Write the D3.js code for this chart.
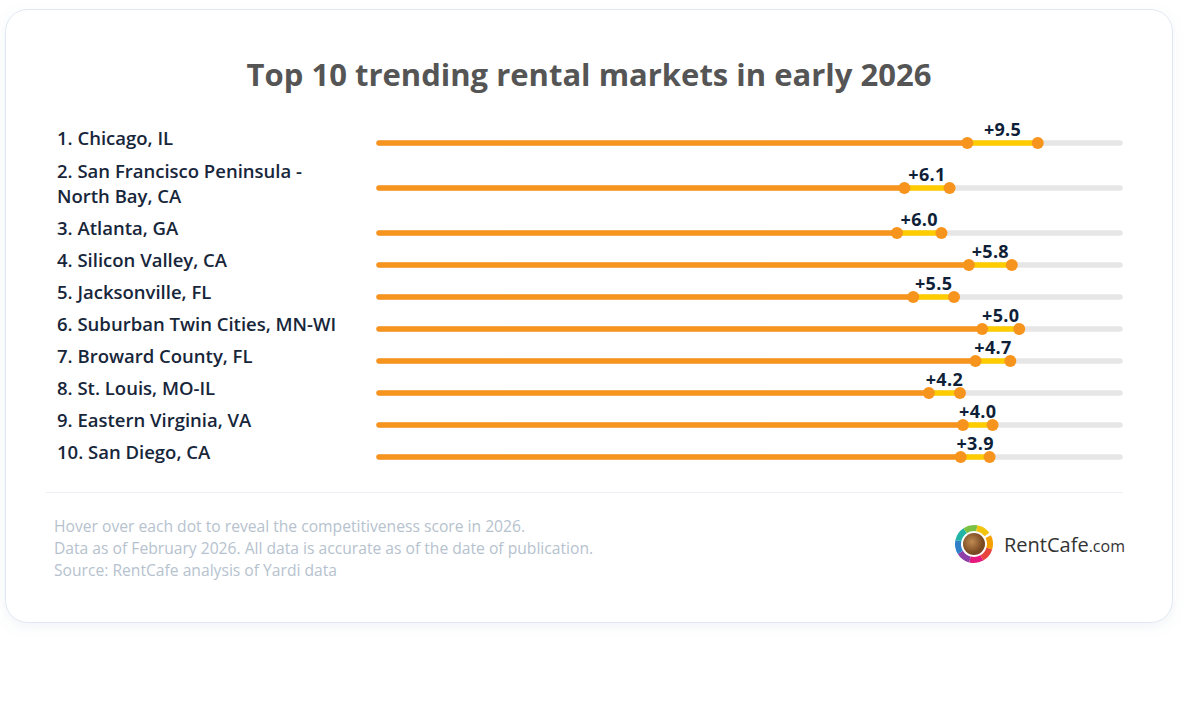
<!DOCTYPE html>
<html>
<head>
<meta charset="utf-8">
<script src="https://cdn.jsdelivr.net/npm/d3@7"></script>
<style>
  html, body { margin: 0; padding: 0; background: #ffffff; }
  svg { display: block; font-family: "Open Sans", "Noto Sans", sans-serif; }
</style>
</head>
<body>
<div id="chart"></div>
<script>
// Data
const markets = [
  "Chicago, IL",
  "San Francisco Peninsula - North Bay, CA",
  "Atlanta, GA",
  "Silicon Valley, CA",
  "Jacksonville, FL",
  "Suburban Twin Cities, MN-WI",
  "Broward County, FL",
  "St. Louis, MO-IL",
  "Eastern Virginia, VA",
  "San Diego, CA"
];
const scoreEarly2025 = [79.4, 70.9, 69.9, 79.6, 72.1, 81.4, 80.5, 74.2, 78.8, 78.5];
const scoreEarly2026 = [88.9, 77.0, 75.9, 85.4, 77.6, 86.4, 85.2, 78.4, 82.8, 82.4];
const changeLabels = ["+9.5", "+6.1", "+6.0", "+5.8", "+5.5", "+5.0", "+4.7", "+4.2", "+4.0", "+3.9"];

const footnotes = [
  "Hover over each dot to reveal the competitiveness score in 2026.",
  "Data as of February 2026. All data is accurate as of the date of publication.",
  "Source: RentCafe analysis of Yardi data"
];

const width = 1189, height = 702;
const orange = "#f7941d", yellow = "#ffcc00", track = "#e6e6e6";

const svg = d3.select("#chart").append("svg")
  .attr("width", width)
  .attr("height", height);

// card with soft shadow
const defs = svg.append("defs");
const shadow = defs.append("filter").attr("id", "shadow")
  .attr("x", "-5%").attr("y", "-5%").attr("width", "110%").attr("height", "115%");
shadow.append("feDropShadow")
  .attr("dx", 0).attr("dy", 4).attr("stdDeviation", 6)
  .attr("flood-color", "#8fa3bf").attr("flood-opacity", 0.12);

svg.append("rect")
  .attr("x", 5.5).attr("y", 9.5)
  .attr("width", 1167).attr("height", 613)
  .attr("rx", 22)
  .attr("fill", "#ffffff")
  .attr("stroke", "#dfe8f2")
  .attr("filter", "url(#shadow)");

svg.append("text")
  .attr("x", 589).attr("y", 86)
  .attr("text-anchor", "middle")
  .attr("font-size", 31)
  .attr("font-weight", 700)
  .attr("fill", "#555555")
  .text("Top 10 trending rental markets in early 2026");

// wrap labels to the left column
const labelX = 57, labelMax = 292, labelSize = 18.5;
const measure = svg.append("text").attr("font-size", labelSize).attr("font-weight", 600);
const labelLines = markets.map((m, i) => {
  const words = (`${i + 1}. ${m}`).split(" ");
  const lines = [];
  let cur = "";
  words.forEach(w => {
    const test = cur ? cur + " " + w : w;
    measure.text(test);
    if (measure.node().getComputedTextLength() > labelMax && cur) {
      lines.push(cur);
      cur = w;
    } else {
      cur = test;
    }
  });
  lines.push(cur);
  return lines;
});
measure.remove();

// row heights: 32 for single line, 58 for two lines
const rowTop = 124;
const centers = [];
let acc = rowTop;
labelLines.forEach(l => {
  const h = l.length > 1 ? 58 : 32;
  centers.push(acc + h / 2);
  acc += h;
});

const y = d3.scaleOrdinal().domain(markets).range(centers);
const x = d3.scaleLinear().domain([0, 100]).range([379, 1120]);

const rows = svg.append("g").selectAll("g")
  .data(markets)
  .join("g");

// labels
rows.append("text")
  .attr("font-size", labelSize)
  .attr("font-weight", 600)
  .attr("fill", "#17263a")
  .each(function (d, i) {
    const lines = labelLines[i];
    const t = d3.select(this);
    const lh = 25;
    const first = y(d) - 3 - (lines.length - 1) * lh / 2 + 8;
    lines.forEach((ln, k) => {
      t.append("tspan").attr("x", labelX).attr("y", first + k * lh).text(ln);
    });
  });

const lineY = d => y(d) + 3;

rows.append("line")
  .attr("x1", x(0)).attr("x2", x(100))
  .attr("y1", lineY).attr("y2", lineY)
  .attr("stroke", track).attr("stroke-width", 5.5).attr("stroke-linecap", "round");

rows.append("line")
  .attr("x1", x(0)).attr("x2", (d, i) => x(scoreEarly2025[i]))
  .attr("y1", lineY).attr("y2", lineY)
  .attr("stroke", orange).attr("stroke-width", 5.5).attr("stroke-linecap", "round");

rows.append("line")
  .attr("x1", (d, i) => x(scoreEarly2025[i])).attr("x2", (d, i) => x(scoreEarly2026[i]))
  .attr("y1", lineY).attr("y2", lineY)
  .attr("stroke", yellow).attr("stroke-width", 5.5);

rows.append("circle")
  .attr("cx", (d, i) => x(scoreEarly2025[i])).attr("cy", lineY)
  .attr("r", 6).attr("fill", orange);

rows.append("circle")
  .attr("cx", (d, i) => x(scoreEarly2026[i])).attr("cy", lineY)
  .attr("r", 6).attr("fill", orange);

rows.append("text")
  .attr("x", (d, i) => (x(scoreEarly2025[i]) + x(scoreEarly2026[i])) / 2)
  .attr("y", d => lineY(d) - 7)
  .attr("text-anchor", "middle")
  .attr("font-size", 18)
  .attr("font-weight", 700)
  .attr("letter-spacing", 0.3)
  .attr("fill", "#0f1f38")
  .text((d, i) => changeLabels[i]);

// separator
svg.append("line")
  .attr("x1", 46).attr("x2", 1123)
  .attr("y1", 492.5).attr("y2", 492.5)
  .attr("stroke", "#edf0f5").attr("stroke-width", 1);

// footnotes
svg.append("g").selectAll("text")
  .data(footnotes)
  .join("text")
  .attr("x", 54)
  .attr("y", (d, i) => 532 + i * 22)
  .attr("font-size", 15.65)
  .attr("fill", "#b6c2ce")
  .text(d => d);

// RentCafe logo
const logo = svg.append("g").attr("transform", "translate(974,544)");
const ringColors = ["#f4a100", "#e8453c", "#e5197e", "#8e3fa8", "#2f80c8", "#21b3a5", "#7ac143", "#f1c40f"];
const ringArc = d3.arc().innerRadius(13).outerRadius(19);
const pie = d3.pie().sort(null).value(1).startAngle(0.35 * Math.PI).endAngle(2.3 * Math.PI).padAngle(0);
logo.selectAll("path")
  .data(pie(ringColors))
  .join("path")
  .attr("d", ringArc)
  .attr("fill", d => d.data);
const grad = defs.append("radialGradient").attr("id", "coffee").attr("cx", "40%").attr("cy", "40%");
grad.append("stop").attr("offset", "0%").attr("stop-color", "#c08a52");
grad.append("stop").attr("offset", "100%").attr("stop-color", "#7a4a22");
logo.append("circle").attr("r", 11).attr("fill", "url(#coffee)");

const brand = svg.append("text")
  .attr("x", 1004).attr("y", 552)
  .attr("font-size", 20)
  .attr("fill", "#333333");
brand.append("tspan").text("RentCafe");
brand.append("tspan").attr("font-size", 16).text(".com");
</script>
</body>
</html>
